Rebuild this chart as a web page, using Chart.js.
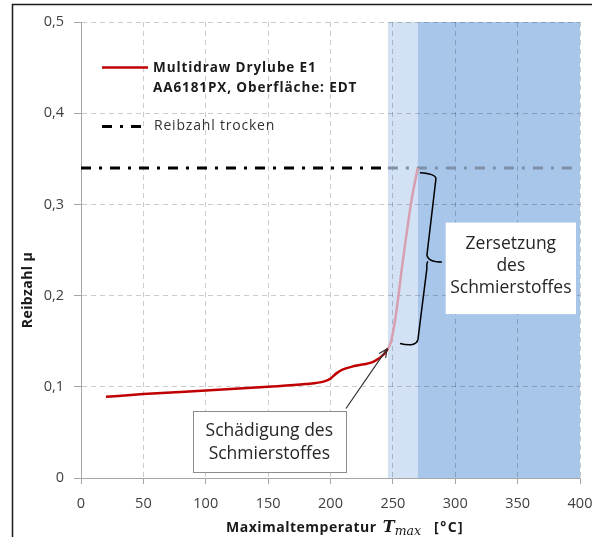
<!DOCTYPE html>
<html><head><meta charset="utf-8">
<script src="https://cdn.jsdelivr.net/npm/chart.js@4.4.1/dist/chart.umd.min.js"></script>
<style>html,body{margin:0;padding:0;background:#fff;overflow:hidden}#wrap{width:592px;height:537px;position:relative}</style>
</head><body><div id="wrap"><canvas id="c" width="592" height="537"></canvas></div>
<script>
// ---- data ----
const temperatures   = [20, 50, 100, 150, 180, 195, 200, 205, 210, 220, 235, 243, 246, 248, 252, 258, 265, 270];
const frictionValues = [0.089, 0.092, 0.096, 0.100, 0.103, 0.106, 0.109, 0.115, 0.119, 0.123, 0.128, 0.136, 0.142, 0.147, 0.175, 0.238, 0.305, 0.340];
const dryTemps    = [0, 246, 270, 400];
const dryFriction = [0.34, 0.34, 0.34, 0.34];
const bandStart = [246, 270];
const bandEnd   = [270, 400];
const xTickStep = 50, xMin = 0, xMax = 400;
const yTickStep = 0.1, yMin = 0, yMax = 0.5;
const legendLines = ['Multidraw Drylube E1', 'AA6181PX, Oberfläche: EDT', 'Reibzahl trocken'];
const xTitle = ['Maximaltemperatur ', 'T', 'max', '[°C]'];
const yTitle = 'Reibzahl µ';
const note1 = ['Schädigung des', 'Schmierstoffes'];
const note2 = ['Zersetzung', 'des', 'Schmierstoffes'];

const RED = '#c00000', PINK = '#d6a0b0', DRY = '#000000', DRY_SHADED = '#7f90a8';
const BAND_COLORS = ['#d3e1f4', '#a8c5ea'];
const FONT = '"Open Sans", Lato, sans-serif';
const bandEdge = bandStart[0];

function spaced(ctx, px) { if ('letterSpacing' in ctx) ctx.letterSpacing = px + 'px'; }

const deco = {
  id: 'deco',
  beforeDraw(chart) {
    const {ctx, scales: {x, y}} = chart;
    ctx.save();
    ctx.fillStyle = '#fff';
    ctx.fillRect(0, 0, chart.width, chart.height);
    for (let i = 0; i < bandStart.length; i++) {
      const x0 = x.getPixelForValue(bandStart[i]), x1 = x.getPixelForValue(bandEnd[i]);
      const y0 = y.getPixelForValue(yMax), y1 = y.getPixelForValue(yMin);
      ctx.fillStyle = BAND_COLORS[i];
      ctx.fillRect(x0, y0, x1 - x0, y1 - y0);
    }
    ctx.strokeStyle = '#1a1a1a';
    ctx.lineWidth = 1.5;
    ctx.strokeRect(12.5, 4.5, 800, 800);
    ctx.restore();
  },
  afterDraw(chart) {
    const {ctx, scales: {x, y}} = chart;
    const P = (a, b) => [x.getPixelForValue(a), y.getPixelForValue(b)];
    ctx.save();
    // --- legend ---
    ctx.lineCap = 'butt';
    ctx.strokeStyle = RED; ctx.lineWidth = 2.5; ctx.setLineDash([]);
    ctx.beginPath(); ctx.moveTo(102, 67.5); ctx.lineTo(148, 67.5); ctx.stroke();
    ctx.strokeStyle = DRY; ctx.lineWidth = 3; ctx.setLineDash([10, 8, 3, 8]);
    ctx.beginPath(); ctx.moveTo(102, 126.5); ctx.lineTo(146, 126.5); ctx.stroke();
    ctx.setLineDash([]);
    ctx.fillStyle = '#1a1a1a';
    ctx.textBaseline = 'middle'; ctx.textAlign = 'left';
    ctx.font = 'bold 13.5px ' + FONT; spaced(ctx, 0.9);
    ctx.fillText(legendLines[0], 153, 68);
    ctx.fillText(legendLines[1], 153, 88);
    ctx.font = '14px ' + FONT; spaced(ctx, 0.8);
    ctx.fillStyle = '#333';
    ctx.fillText(legendLines[2], 154, 126);
    spaced(ctx, 0);

    // --- note 1 box + arrow ---
    const [b1x0, b1y0] = P(89.5, 0.0738), [b1x1, b1y1] = P(212.4, 0.0072);
    ctx.fillStyle = '#fff'; ctx.fillRect(b1x0, b1y0, b1x1 - b1x0, b1y1 - b1y0);
    ctx.strokeStyle = '#8c8c8c'; ctx.lineWidth = 1;
    ctx.strokeRect(Math.round(b1x0) + 0.5, Math.round(b1y0) + 0.5, Math.round(b1x1 - b1x0), Math.round(b1y1 - b1y0));
    ctx.fillStyle = '#262626'; ctx.textAlign = 'center';
    ctx.font = '17.5px ' + FONT;
    const c1 = (b1x0 + b1x1) / 2;
    ctx.fillText(note1[0], c1, b1y0 + 20);
    ctx.fillText(note1[1], c1, b1y0 + 43);
    const [ax0, ay0] = P(212.4, 0.0762), [ax1, ay1] = P(245.3, 0.1415);
    ctx.strokeStyle = '#333'; ctx.lineWidth = 1.2;
    ctx.beginPath(); ctx.moveTo(ax0, ay0); ctx.lineTo(ax1, ay1); ctx.stroke();
    const ang = Math.atan2(ay1 - ay0, ax1 - ax0), hl = 9;
    ctx.beginPath();
    ctx.moveTo(ax1 - hl * Math.cos(ang - 0.45), ay1 - hl * Math.sin(ang - 0.45));
    ctx.lineTo(ax1, ay1);
    ctx.lineTo(ax1 - hl * Math.cos(ang + 0.45), ay1 - hl * Math.sin(ang + 0.45));
    ctx.stroke();

    // --- brace ---
    const brace = [[271.7,0.3346],[282.1,0.3335],[284.5,0.3280],[277.3,0.2444],[289.3,0.2368],[277.3,0.2302],[270.1,0.1519],[267.7,0.1464],[255.7,0.1475]].map(p => P(p[0], p[1]));
    ctx.strokeStyle = '#000'; ctx.lineWidth = 1.5; ctx.lineJoin = 'round';
    ctx.beginPath();
    ctx.moveTo(brace[0][0], brace[0][1]);
    ctx.quadraticCurveTo(brace[1][0] + 3, brace[1][1], brace[2][0], brace[2][1]);
    ctx.lineTo(brace[3][0], brace[3][1]);
    ctx.quadraticCurveTo(brace[3][0] + 1, brace[4][1], brace[4][0], brace[4][1]);
    ctx.moveTo(brace[3][0] + 1, brace[4][1] - 0.5);
    ctx.quadraticCurveTo(brace[3][0] - 0.5, brace[4][1] + 1, brace[5][0], brace[5][1]);
    ctx.lineTo(brace[6][0], brace[6][1]);
    ctx.quadraticCurveTo(brace[7][0] + 1, brace[7][1] + 3, brace[8][0], brace[8][1]);
    ctx.stroke();

    // --- note 2 box ---
    const [b2x0, b2y0] = P(292.3, 0.2801), [b2x1, b2y1] = P(396.8, 0.1797);
    ctx.fillStyle = '#fff'; ctx.fillRect(b2x0, b2y0, b2x1 - b2x0, b2y1 - b2y0);
    ctx.fillStyle = '#262626'; ctx.font = '17.5px ' + FONT; ctx.textAlign = 'center';
    const c2 = (b2x0 + b2x1) / 2;
    ctx.fillText(note2[0], c2, b2y0 + 21.5);
    ctx.fillText(note2[1], c2, b2y0 + 43.5);
    ctx.fillText(note2[2], c2, b2y0 + 65.5);

    // --- axis titles ---
    ctx.fillStyle = '#1a1a1a'; ctx.textAlign = 'left'; ctx.textBaseline = 'alphabetic';
    let tx = 226; const base = 532;
    ctx.font = 'bold 14px ' + FONT; spaced(ctx, 0.5);
    ctx.fillText(xTitle[0], tx, base); tx += ctx.measureText(xTitle[0]).width + 2;
    spaced(ctx, 0);
    ctx.font = 'italic bold 16px "DejaVu Serif", serif'; ctx.fillText(xTitle[1], tx, base); tx += ctx.measureText(xTitle[1]).width;
    ctx.font = 'italic 12.5px "DejaVu Serif", serif'; ctx.fillText(xTitle[2], tx, base + 3); tx += ctx.measureText(xTitle[2]).width + 13;
    ctx.font = 'bold 14px ' + FONT; spaced(ctx, 1.5); ctx.fillText(xTitle[3], tx, base);
    spaced(ctx, 0);
    ctx.translate(28, 290); ctx.rotate(-Math.PI / 2);
    ctx.textAlign = 'center'; ctx.textBaseline = 'middle';
    ctx.font = 'bold 14px ' + FONT; spaced(ctx, 0.4); ctx.fillText(yTitle, 0, 0);
    ctx.restore();
  }
};

new Chart(document.getElementById('c'), {
  type: 'line',
  data: {
    datasets: [
      {
        label: legendLines[0],
        data: temperatures.map((t, i) => ({x: t, y: frictionValues[i]})),
        borderColor: RED, borderWidth: 2.5, pointRadius: 0, cubicInterpolationMode: 'monotone',
        segment: { borderColor: c => c.p0.parsed.x >= bandEdge ? PINK : RED }
      },
      {
        label: legendLines[2],
        data: dryTemps.map((t, i) => ({x: t, y: dryFriction[i]})),
        borderColor: DRY, borderWidth: 3, pointRadius: 0, borderDash: [10, 8, 3, 8],
        segment: { borderColor: c => c.p0.parsed.x >= bandEdge ? DRY_SHADED : DRY }
      }
    ]
  },
  options: {
    responsive: false, animation: false, devicePixelRatio: 1,
    layout: { padding: { top: 22, right: 12, left: 0, bottom: 0 } },
    plugins: { legend: { display: false }, tooltip: { enabled: false } },
    scales: {
      x: {
        type: 'linear', min: xMin, max: xMax,
        afterFit: s => { s.height = 59; s.paddingLeft = 0; s.paddingRight = 0; },
        ticks: { stepSize: xTickStep, color: '#404040', font: { family: FONT, size: 14.5 }, padding: 11, maxRotation: 0 },
        grid: { color: 'rgba(0,0,0,0.2)', tickColor: '#a6a6a6', tickLength: 6, tickBorderDash: [] },
        border: { color: '#a6a6a6', width: 1, dash: [5, 4] }
      },
      y: {
        min: yMin, max: yMax,
        afterFit: s => { s.width = 81; s.paddingTop = 0; s.paddingBottom = 0; },
        ticks: { stepSize: yTickStep, color: '#404040', font: { family: FONT, size: 14.5 }, padding: 10,
                 callback: v => v.toFixed(1).replace('.', ',').replace(/^0,0$/, '0') },
        grid: { color: 'rgba(0,0,0,0.2)', tickColor: '#a6a6a6', tickLength: 7, tickBorderDash: [] },
        border: { color: '#a6a6a6', width: 1, dash: [5, 4] }
      }
    }
  },
  plugins: [deco]
});
</script></body></html>
